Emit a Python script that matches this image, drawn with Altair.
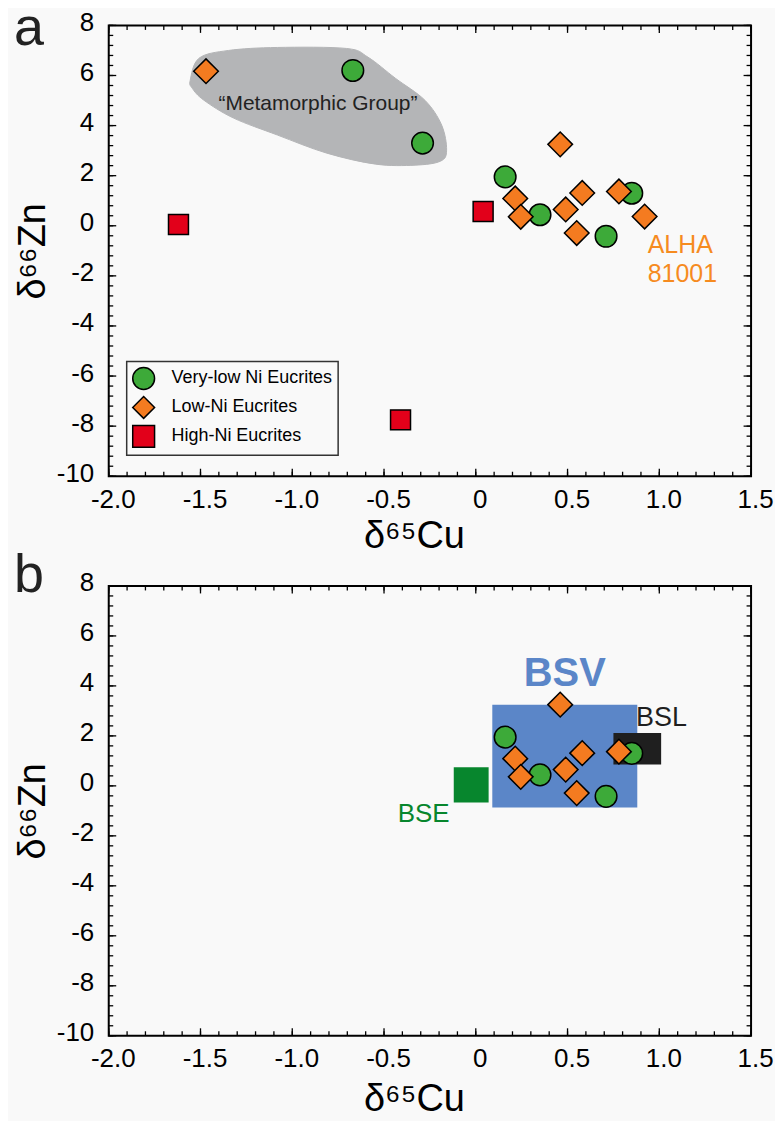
import json
import altair as alt
import pandas as pd

FONT = "Liberation Sans"
BG = "#f9f9f9"

# ---------------- data ----------------
groups = ["Very-low Ni Eucrites", "Low-Ni Eucrites", "High-Ni Eucrites"]
group_colors = ["#3daa39", "#f47b20", "#e2001a"]
group_shapes = ["circle", "diamond", "square"]
group_sizes = [470, 610, 400]

vlow_cu = [-0.67, -0.29, 0.16, 0.35, 0.85, 0.71]
vlow_zn = [6.20, 3.30, 1.95, 0.44, 1.30, -0.42]
vlow_in_b = [False, False, True, True, True, True]

low_cu = [-1.47, 0.46, 0.215, 0.245, 0.49, 0.58, 0.55, 0.78, 0.92]
low_zn = [6.17, 3.25, 1.09, 0.36, 0.65, 1.31, -0.29, 1.37, 0.37]
low_in_b = [False, True, True, True, True, True, True, True, False]

high_cu = [-1.62, 0.04, -0.41]
high_zn = [0.05, 0.57, -7.75]
high_in_b = [False, False, False]

# "Metamorphic Group" field outline
blob_cu = [-1.556, -1.508, -1.347, -1.080, -0.705, -0.587, -0.438, -0.277, -0.186,
           -0.159, -0.192, -0.331, -0.545, -0.812, -1.080, -1.320, -1.481, -1.545]
blob_zn = [5.81, 6.69, 7.00, 7.12, 7.08, 6.73, 5.89, 5.01, 4.02,
           3.02, 2.58, 2.42, 2.46, 2.90, 3.62, 4.30, 5.01, 5.49]

# reservoirs (panel b)
res_names = ["BSV", "BSE", "BSL"]
res_cu_min = [0.09, -0.12, 0.75]
res_cu_max = [0.88, 0.07, 1.01]
res_zn_min = [-0.87, -0.67, 0.86]
res_zn_max = [3.25, 0.74, 2.12]
res_colors = ["#5b86c8", "#07862d", "#1f1f1f"]

# axis ticks
x_tick_values = [-2.0, -1.5, -1.0, -0.5, 0.0, 0.5, 1.0, 1.5]
x_tick_labels = ["-2.0", "-1.5", "-1.0", "-0.5", "0", "0.5", "1.0", "1.5"]
y_tick_values = [-10, -8, -6, -4, -2, 0, 2, 4, 6, 8]
y_tick_labels = ["-10", "-8", "-6", "-4", "-2", "0", "2", "4", "6", "8"]
x_minor = [round(-2.0 + 0.1 * i, 1) for i in range(36)]
y_minor = [round(-10 + 0.4 * i, 1) for i in range(46)]

W = 644
H_A = 452
H_B = 451

XS = alt.Scale(domain=[-2.0, 1.5], nice=False, zero=False)
YS = alt.Scale(domain=[-10, 8], nice=False, zero=False)


def x_axis(title_y):
    return alt.Axis(values=x_tick_values,
                    labelExpr=f"{json.dumps(x_tick_labels)}[indexof({json.dumps(x_tick_values)}, datum.value)]",
                    grid=False, ticks=False, tickSize=0, domain=False,
                    labelFont=FONT, labelFontSize=26, labelColor="black",
                    labelPadding=10, labelOffset=4, labelOverlap=False, labelFlush=False,
                    title="δ⁶⁵Cu", titleFont=FONT, titleFontSize=38, titleFontWeight="normal",
                    titleColor="black", titleX=W / 2 - 16, titleY=title_y,
                    titleBaseline="middle", titleAlign="center")


def y_axis(h):
    return alt.Axis(values=y_tick_values,
                    labelExpr=f"{json.dumps(y_tick_labels)}[indexof({json.dumps(y_tick_values)}, datum.value)]",
                    grid=False, ticks=False, tickSize=0, domain=False,
                    labelFont=FONT, labelFontSize=26, labelColor="black",
                    labelPadding=15, labelOffset=-3, labelOverlap=False, labelFlush=False,
                    title="δ⁶⁶Zn", titleFont=FONT, titleFontSize=38, titleFontWeight="normal",
                    titleColor="black", titleX=-75, titleY=h / 2, titleAngle=270,
                    titleBaseline="middle", titleAlign="center")


def panel(h, title_y, letter, letter_y, in_b, legend):
    X = lambda f: alt.X(f, type="quantitative", scale=XS, axis=x_axis(title_y))
    Y = lambda f: alt.Y(f, type="quantitative", scale=YS, axis=y_axis(h))
    layers = []

    if not in_b:
        blob = pd.DataFrame({"cu": blob_cu, "zn": blob_zn, "i": list(range(len(blob_cu)))})
        layers.append(alt.Chart(blob).mark_line(
            fill="#b4b5b7", stroke="#b4b5b7", strokeWidth=1, interpolate="cardinal-closed"
        ).encode(x=X("cu"), y=Y("zn"), order=alt.Order("i:Q")))
    else:
        res = pd.DataFrame({"name": res_names, "x1": res_cu_min, "x2": res_cu_max,
                            "y1": res_zn_min, "y2": res_zn_max})
        layers.append(alt.Chart(res).mark_rect().encode(
            x=X("x1"), x2="x2", y=Y("y1"), y2="y2",
            fill=alt.Fill("name:N", scale=alt.Scale(domain=res_names, range=res_colors), legend=None)))

    sets = [(vlow_cu, vlow_zn, vlow_in_b), (low_cu, low_zn, low_in_b), (high_cu, high_zn, high_in_b)]
    for gi, (cu, zn, flag) in enumerate(sets):
        if in_b:
            cu = [c for c, f in zip(cu, flag) if f]
            zn = [z for z, f in zip(zn, flag) if f]
        if not cu:
            continue
        df = pd.DataFrame({"cu": cu, "zn": zn, "group": groups[gi]})
        layers.append(alt.Chart(df).mark_point(
            filled=True, size=group_sizes[gi], stroke="black", strokeWidth=1.5, opacity=1
        ).encode(
            x=X("cu"), y=Y("zn"),
            color=alt.Color("group:N", scale=alt.Scale(domain=groups, range=group_colors), legend=legend),
            shape=alt.Shape("group:N", scale=alt.Scale(domain=groups, range=group_shapes), legend=legend),
        ))

    def txt(t, x, y, **kw):
        df = pd.DataFrame({"t": [t], "cu": [x], "zn": [y]})
        return alt.Chart(df).mark_text(font=FONT, baseline="alphabetic", **kw).encode(
            x=X("cu"), y=Y("zn"), text="t:N")

    if not in_b:
        layers.append(txt("“Metamorphic Group”", -0.86, 4.61, fontSize=21, color="#222222", align="center"))
        layers.append(txt("ALHA", 0.937, -1.08, fontSize=25, color="#f68b1f", align="left"))
        layers.append(txt("81001", 0.937, -2.23, fontSize=25, color="#f68b1f", align="left"))
    else:
        layers.append(txt("BSV", 0.485, 4.01, fontSize=40, fontWeight="bold", color="#5b86c8", align="center"))
        layers.append(txt("BSL", 0.873, 2.41, fontSize=27, color="#1f1f1f", align="left"))
        layers.append(txt("BSE", -0.143, -1.46, fontSize=26, color="#07862d", align="right"))

    # inward ticks on all four sides
    for vals, L in [(x_minor, 4.5), (x_tick_values, 7.5)]:
        d = pd.DataFrame({"v": vals})
        layers.append(alt.Chart(d).mark_rule(color="black", strokeWidth=1.3).encode(
            x=X("v"), y=alt.value(h), y2=alt.value(h - L)))
        layers.append(alt.Chart(d).mark_rule(color="black", strokeWidth=1.3).encode(
            x=X("v"), y=alt.value(0), y2=alt.value(L)))
    for vals, L in [(y_minor, 4.5), (y_tick_values, 7.5)]:
        d = pd.DataFrame({"v": vals})
        layers.append(alt.Chart(d).mark_rule(color="black", strokeWidth=1.3).encode(
            y=Y("v"), x=alt.value(0), x2=alt.value(L)))
        layers.append(alt.Chart(d).mark_rule(color="black", strokeWidth=1.3).encode(
            y=Y("v"), x=alt.value(W), x2=alt.value(W - L)))

    # panel letter
    layers.append(alt.Chart(pd.DataFrame({"t": [letter]})).mark_text(
        font=FONT, fontSize=54, color="#222222", align="left", baseline="alphabetic"
    ).encode(x=alt.value(-95), y=alt.value(letter_y), text="t:N"))

    return alt.layer(*layers).properties(width=W, height=h)


legend_a = alt.Legend(title=None, orient="none", legendX=18, legendY=337, padding=5,
                      strokeColor="#333333", fillColor=BG, labelFont=FONT, labelFontSize=18,
                      labelLimit=400, labelColor="black", symbolSize=480, symbolStrokeWidth=1.5,
                      symbolStrokeColor="black", rowPadding=1, labelOffset=16)

panel_a = panel(H_A, 60, "a", 20, False, legend_a)
panel_b = panel(H_B, 64, "b", 6, True, None)

chart = alt.vconcat(panel_a, panel_b, spacing=110, bounds="flush").resolve_legend(
    color="independent", shape="independent"
).resolve_scale(color="independent", shape="independent").configure(
    background=BG, padding={"left": 5, "top": -8, "right": 0, "bottom": 0}
).configure_view(stroke="black", strokeWidth=2).configure_legend(strokeWidth=1.5)

chart.save("out.html", embed_options={"renderer": "svg", "actions": False})
